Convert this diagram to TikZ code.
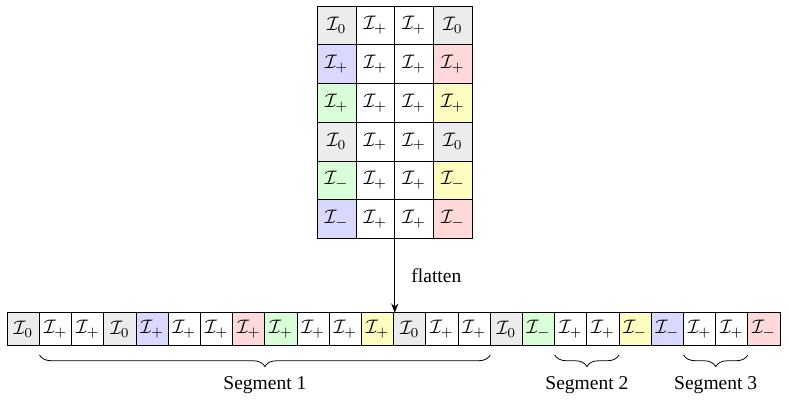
\documentclass[tikz,border=0pt]{standalone}
\usepackage{fontspec}
\setmainfont{Liberation Serif}
\usetikzlibrary{arrows.meta, positioning, calc, decorations.pathreplacing}

\tikzset{
  cell/.style={draw, line width=0.5pt, inner sep=0pt, outer sep=0pt,
    minimum width=19.84pt, minimum height=19.84pt},
  flatcell/.style={cell, minimum width=16.49pt, minimum height=16.5pt},
  brace/.style={decorate, thin,
    decoration={brace, mirror, amplitude=6pt, raise=5pt}},
}

\begin{document}
\begin{tikzpicture}[x=0.512pt, y=-0.512pt, >=Stealth]
  \useasboundingbox (0,0) rectangle (789,401);
  % 6x4 block grid (g-i) and its row-major flattening (s-i)
  \foreach \sub/\tint [count=\i from 0] in {
      0/gray!15, +/white, +/white, 0/gray!15,
      +/blue!15, +/white, +/white, +/red!15,
      +/green!15, +/white, +/white, +/yellow!25,
      0/gray!15, +/white, +/white, 0/gray!15,
      -/green!15, +/white, +/white, -/yellow!25,
      -/blue!15, +/white, +/white, -/red!15} {
    \pgfmathtruncatemacro{\r}{floor(\i/4)}
    \pgfmathtruncatemacro{\c}{mod(\i,4)}
    \node[cell, fill=\tint] (g-\i) at ({336.65+38.75*\c}, {25.4+38.75*\r})
      {$\mathcal{I}_{\sub}$};
    \node[flatcell, fill=\tint] (s-\i) at ({23.4+32.2*\i}, 329)
      {$\mathcal{I}_{\sub}$};
  }
  % flatten arrow
  \draw[->] (g-21.south east) -- (g-21.south east |- s-11.north)
    node[midway, right=5pt] {flatten};
  % segments
  \draw[brace] (s-1.south west) -- (s-14.south east)
    node[midway, below=12.8pt] {Segment 1};
  \draw[brace] (s-17.south west) -- (s-18.south east)
    node[midway, below=12.8pt] {Segment 2};
  \draw[brace] (s-21.south west) -- (s-22.south east)
    node[midway, below=12.8pt] {Segment 3};
\end{tikzpicture}
\end{document}
